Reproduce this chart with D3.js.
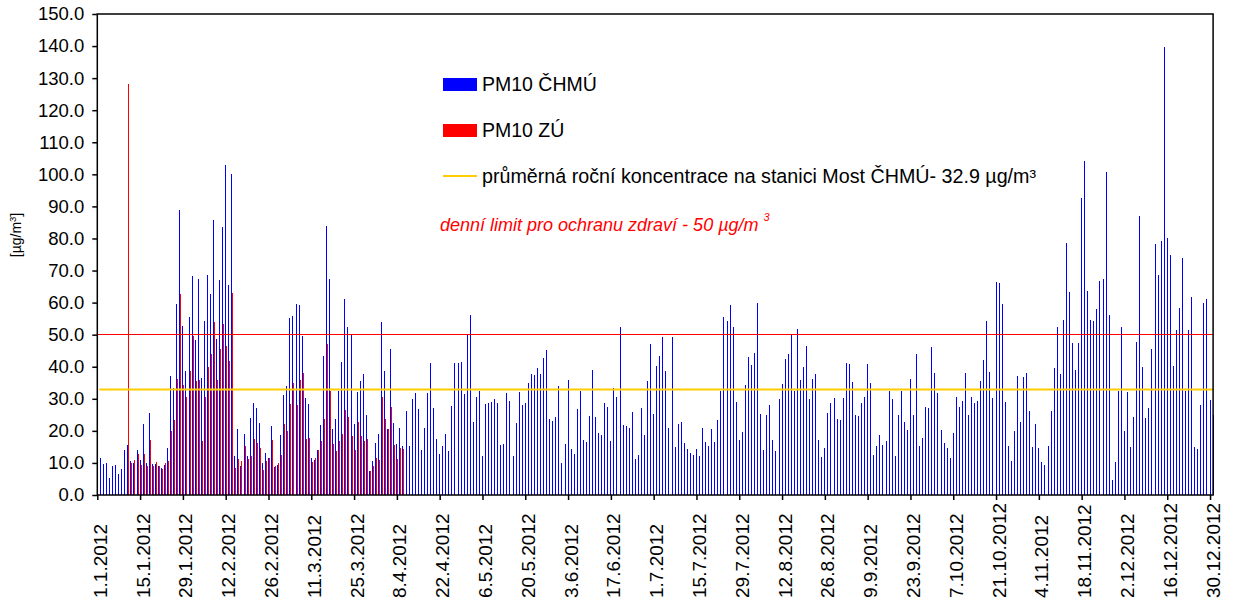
<!DOCTYPE html>
<html><head><meta charset="utf-8">
<script src="https://cdn.jsdelivr.net/npm/d3@7"></script>
<style>
body{margin:0;background:#fff}
svg{display:block}
text{font-family:Arial,"Liberation Sans",sans-serif}
</style>
</head><body>
<svg id="c" width="1243" height="606"></svg>
<script>
// PM10 ČHMÚ daily values, 1.1.2012 – 31.12.2012 (366 days)
const chmu = [
12,11.5,9.7,10.0,5.3,9.0,9.4,6.5,8.1,14.0,
15.6,10.6,10.0,14.0,10.9,22.1,10.0,25.6,9.7,9.7,
9.0,8.4,9.4,14.7,37.1,33.4,59.6,88.9,52.7,38.7,
55.5,68.3,48.3,67.4,36.5,54.3,68.6,62.7,85.8,48.6,
67.0,83.6,102.9,65.5,100.1,12.2,20.6,9.0,19.0,12.2,
24.0,28.7,27.1,22.5,10.0,13.1,11.5,21.5,8.7,9.4,
18.7,31.2,34.0,55.2,55.8,59.6,59.3,49.6,30.2,28.4,
11.5,10.9,14.0,21.8,43.3,83.9,67.4,20.6,23.7,32.4,
41.5,61.1,52.4,50.2,22.1,32.1,35.6,37.7,24.9,7.5,
10.6,16.2,19.0,54.0,38.7,20.6,45.5,22.5,15.9,20.9,
15.3,26.2,15.3,29.9,31.8,26.8,14.0,20.9,31.8,41.2,
27.1,17.5,12.8,15.3,19.0,13.7,27.8,41.2,41.2,41.5,
31.5,50.2,56.1,22.8,30.6,32.4,12.2,28.4,28.7,29.0,
29.9,28.7,15.6,15.9,31.8,29.3,12.2,22.5,32.1,28.1,
28.7,34.9,37.7,37.4,39.6,37.7,42.7,45.2,23.7,23.1,
24.3,34.0,10.0,15.9,35.9,14.3,12.8,26.8,32.4,17.2,
16.5,24.6,39.0,24.3,19.3,18.7,28.7,27.4,16.8,33.4,
30.6,52.4,21.8,21.5,20.9,25.9,11.2,12.5,27.1,18.7,
35.6,47.1,25.3,40.2,43.3,49.3,38.7,20.9,49.3,15.0,
22.1,22.8,16.2,14.3,13.1,12.5,14.3,12.2,20.9,16.5,
15.3,20.6,16.5,23.4,32.4,55.5,54.3,59.3,52.4,29.0,
17.2,19.6,34.3,43.0,40.5,44.3,59.9,25.3,14.0,24.9,
28.1,17.2,13.7,29.9,34.6,42.4,44.0,50.2,32.4,51.8,
35.9,39.9,46.5,29.9,36.2,37.7,17.2,11.9,14.7,25.6,
28.7,30.2,23.7,23.4,30.2,41.2,40.9,35.2,24.9,24.6,
28.7,30.6,40.9,34.9,12.5,15.3,18.7,15.6,16.8,32.4,
29.9,12.2,24.9,32.4,22.8,20.3,36.2,24.9,44.0,15.3,
17.8,27.4,27.1,46.2,38.0,31.8,20.3,16.2,14.7,11.5,
19.3,30.6,27.4,29.3,38.0,24.9,30.6,28.7,29.3,35.6,
42.1,54.3,38.4,30.2,66.4,66.1,59.6,29.0,15.3,10.6,
20.0,37.1,22.8,36.8,38.0,26.2,15.0,22.1,14.7,10.3,
9.4,15.3,26.2,39.6,52.4,37.7,54.6,78.6,63.3,47.4,
39.0,47.4,92.6,104.2,63.6,54.6,54.3,58.0,66.7,67.4,
100.7,56.1,4.7,10.3,32.4,52.4,20.0,32.1,15.0,24.3,
47.7,87.0,39.9,24.0,27.1,45.5,78.3,68.6,79.2,139.7,
80.1,74.8,40.2,51.5,58.3,73.9,32.4,51.5,61.7,15.0,
14.3,28.1,59.9,61.1,29.6,25.0
];
// PM10 ZÚ daily values, 11.1.2012 – 10.4.2012
const zuFirstDay = "11.1.2012";
const zu = [
128.2,10.0,10.9,12.8,9.4,12.8,9.0,17.2,9.0,10.3,
9.0,8.1,10.0,10.6,20.0,23.4,36.2,62.7,34.3,30.6,
38.7,49.6,35.6,35.9,16.8,30.6,39.9,44.0,54.0,36.0,
45.5,53.3,46.5,41.8,63.0,8.4,11.2,10.6,15.3,11.2,
12.2,17.5,16.2,14.7,7.8,10.6,11.5,17.2,9.0,10.0,
12.5,22.1,20.0,28.4,34.9,28.1,35.9,38.0,17.5,17.8,
10.3,11.5,14.0,16.8,23.7,47.1,32.4,15.9,13.7,16.8,
19.0,26.5,24.3,18.4,14.0,22.8,18.4,16.8,17.5,7.5,
9.0,11.5,10.9,30.6,23.7,20.6,27.4,15.6,11.2,14.7,
14.3
];
const tickLabels = ["1.1.2012","15.1.2012","29.1.2012","12.2.2012","26.2.2012","11.3.2012","25.3.2012",
"8.4.2012","22.4.2012","6.5.2012","20.5.2012","3.6.2012","17.6.2012","1.7.2012","15.7.2012",
"29.7.2012","12.8.2012","26.8.2012","9.9.2012","23.9.2012","7.10.2012","21.10.2012","4.11.2012",
"18.11.2012","2.12.2012","16.12.2012","30.12.2012"];
const yTicks = [0,10,20,30,40,50,60,70,80,90,100,110,120,130,140,150];
const annualMean = 32.9;
const dailyLimit = 50;
const seriesNames = ["PM10 ČHMÚ","PM10 ZÚ"];
const meanLabel = "průměrná roční koncentrace na stanici Most ČHMÚ- 32.9 µg/m³";
const limitLabel = "denní limit pro ochranu zdraví - 50 µg/m ";

const fmt = d3.timeFormat("%-d.%-m.%Y");
const cats = d3.timeDay.range(new Date(2012,0,1), new Date(2013,0,1)).map(fmt);

const L=97.3, R=1213.1, T=14, B=495;
const svg = d3.select("#c");
const x = d3.scalePoint().domain(cats).range([L, R]);
const y = d3.scaleLinear().domain([0,150]).range([B, T]);

const blueData = cats.map((c,i)=>({c, v: chmu[i]}));
const zStart = cats.indexOf(zuFirstDay);
const redData = zu.map((v,i)=>({c: cats[zStart+i], v}));

const g = svg.append("g").attr("shape-rendering","crispEdges");
g.selectAll("rect.b").data(blueData).join("rect").attr("class","b")
  .attr("x", d=>Math.floor(x(d.c))).attr("width",1)
  .attr("y", d=>y(d.v)).attr("height", d=>B - y(d.v)).attr("fill","#0000FF");
g.selectAll("rect.r").data(redData).join("rect").attr("class","r")
  .attr("x", d=>Math.floor(x(d.c))+1).attr("width",1)
  .attr("y", d=>y(d.v)).attr("height", d=>B - y(d.v)).attr("fill","#FF0000");

// limit and mean lines
svg.append("line").attr("x1",L).attr("x2",R).attr("y1",y(dailyLimit)).attr("y2",y(dailyLimit))
  .attr("stroke","#FF0000").attr("stroke-width",1).attr("shape-rendering","crispEdges");
svg.append("line").attr("x1",L+2).attr("x2",R).attr("y1",y(annualMean)).attr("y2",y(annualMean))
  .attr("stroke","#FFCC00").attr("stroke-width",2.2);

// frame
svg.append("rect").attr("x",L).attr("y",T).attr("width",R-L).attr("height",B-T)
  .attr("fill","none").attr("stroke","#000").attr("stroke-width",1.5);

// y axis
const ya = svg.append("g").attr("transform",`translate(${L},0)`)
  .call(d3.axisLeft(y).tickValues(yTicks).tickFormat(d3.format(".1f")).tickSize(5).tickPadding(8));
ya.select(".domain").remove();
ya.selectAll("line").attr("stroke","#000").attr("stroke-width",1.5);
ya.selectAll("text").attr("font-size","18.5px").attr("fill","#000").attr("font-family","Arial, 'Liberation Sans', sans-serif");

// x axis
const xa = svg.append("g").attr("transform",`translate(0,${B})`)
  .call(d3.axisBottom(x).tickValues(tickLabels).tickSize(5));
xa.select(".domain").remove();
xa.selectAll("line").attr("stroke","#000").attr("stroke-width",1.5);
xa.selectAll("text")
  .attr("font-size","19px").attr("fill","#000").attr("font-family","Arial, 'Liberation Sans', sans-serif")
  .attr("text-anchor","start").attr("y",0).attr("x",0).attr("dy",null)
  .attr("transform","translate(4,103) rotate(-90)")
  .attr("dominant-baseline","middle");

// y title
svg.append("text").attr("transform","translate(21,235) rotate(-90)").attr("text-anchor","middle")
  .attr("font-size","14px").html('[µg/m<tspan baseline-shift="super" font-size="9.5px">3</tspan>]');

// legend
const lg = svg.append("g");
lg.append("rect").attr("x",443).attr("y",78).attr("width",34).attr("height",13).attr("fill","#0000FF");
lg.append("rect").attr("x",443).attr("y",124).attr("width",34).attr("height",13).attr("fill","#FF0000");
lg.append("line").attr("x1",443).attr("x2",477).attr("y1",176).attr("y2",176).attr("stroke","#FFCC00").attr("stroke-width",2);
lg.append("text").attr("x",482).attr("y",91).attr("font-size","19.5px").text(seriesNames[0]);
lg.append("text").attr("x",482).attr("y",137).attr("font-size","19.5px").text(seriesNames[1]);
lg.append("text").attr("x",482).attr("y",183).attr("font-size","19.7px").text(meanLabel);
const lt = lg.append("text").attr("x",440).attr("y",231).attr("font-size","18px").attr("font-style","italic").attr("fill","#FF0000");
lt.append("tspan").text(limitLabel);
lt.append("tspan").attr("font-size","11px").attr("dy",-10).text("3");
</script>
</body></html>
